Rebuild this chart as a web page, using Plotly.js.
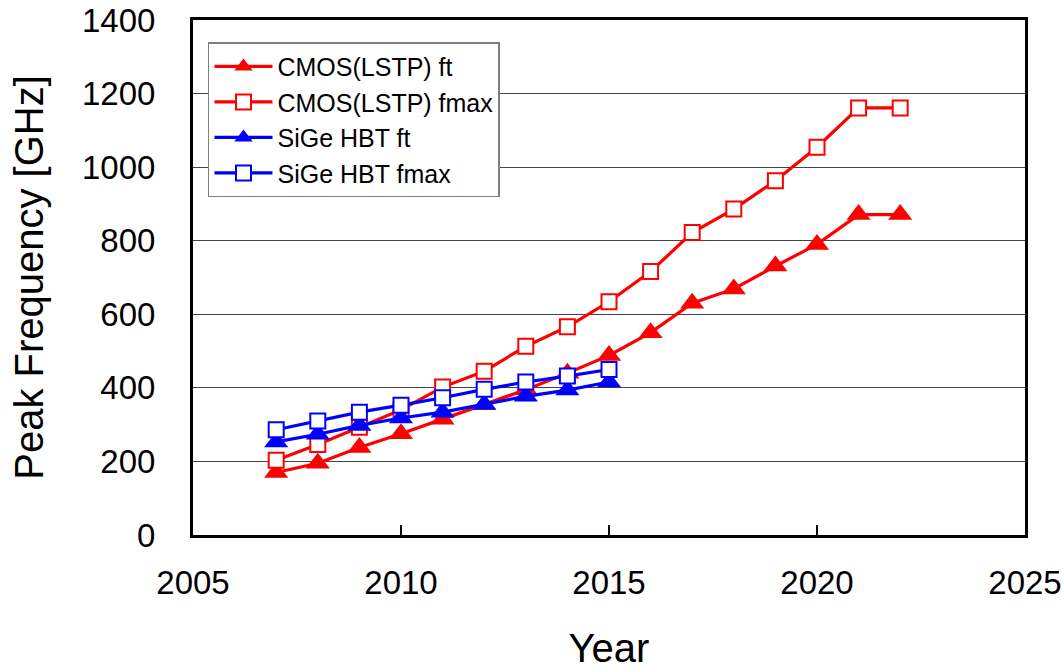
<!DOCTYPE html>
<html>
<head>
<meta charset="utf-8">
<script src="https://cdn.plot.ly/plotly-3.0.1.min.js"></script>
<style>html,body{margin:0;padding:0;background:#fff;}#chart{width:1063px;height:670px;}</style>
</head>
<body>
<div id="chart"></div>
<script>
const cmosYears = [2007,2008,2009,2010,2011,2012,2013,2014,2015,2016,2017,2018,2019,2020,2021,2022];
const cmosFt    = [170,195,238,275,315,355,395,440,488,550,630,669,731,790,871,871];
const cmosFmax  = [203,246,293,340,402,445,513,566,634,716,822,886,963,1054,1161,1161];
const sigeYears = [2007,2008,2009,2010,2011,2012,2013,2014,2015];
const sigeFt    = [253,274,298,318,334,355,377,394,416];
const sigeFmax  = [286,310,334,353,373,396,416,432,450];
const seriesNames = ['CMOS(LSTP) ft','CMOS(LSTP) fmax','SiGe HBT ft','SiGe HBT fmax'];
const xTicks = [2005,2010,2015,2020,2025];
const yTicks = [0,200,400,600,800,1000,1200,1400];

const RED = '#FF0000', BLUE = '#0000FF';
function tri(x, y, name, color, g){
  return {x:x, y:y, name:name, type:'scatter', mode:'lines+markers', legendgroup:g,
    line:{color:color, width:3.2},
    marker:{symbol:'triangle-up', size:21, color:color, line:{width:0}}};
}
function sq(x, y, name, color, g){
  return {x:x, y:y, name:name, type:'scatter', mode:'lines+markers', legendgroup:g,
    line:{color:color, width:3.2},
    marker:{symbol:'square', size:15, color:'#FFFFFF', line:{color:color, width:2}}};
}
const data = [
  tri(cmosYears, cmosFt, seriesNames[0], RED, 'a'),
  sq(cmosYears, cmosFmax, seriesNames[1], RED, 'b'),
  tri(sigeYears, sigeFt, seriesNames[2], BLUE, 'c'),
  sq(sigeYears, sigeFmax, seriesNames[3], BLUE, 'd')
];
const FONT = 'Liberation Sans, Arial, sans-serif';
const layout = {
  width:1063, height:670,
  margin:{l:193, r:38, t:20, b:135},
  paper_bgcolor:'#FFFFFF', plot_bgcolor:'#FFFFFF',
  font:{family:FONT, color:'#000'},
  showlegend:true,
  legend:{x:0.018, y:0.957, xanchor:'left', yanchor:'top',
    bgcolor:'#FFFFFF', bordercolor:'#808080', borderwidth:1.5,
    font:{family:FONT, size:25, color:'#000'}, tracegroupgap:0, itemwidth:58},
  xaxis:{range:[2005,2025], tickvals:xTicks, ticktext:xTicks.map(String),
    showgrid:false, zeroline:false, showline:true, mirror:true, linecolor:'#000', linewidth:3,
    ticks:'inside', ticklen:10, tickwidth:2, tickcolor:'#000',
    tickfont:{family:FONT, size:33, color:'#000'}, ticklabelstandoff:16,
    title:{text:'Year', font:{family:FONT, size:40, color:'#000'}, standoff:52}},
  yaxis:{range:[0,1400], tickvals:yTicks, ticktext:yTicks.map(String),
    showgrid:true, gridcolor:'#444', gridwidth:1, zeroline:false,
    showline:true, mirror:true, linecolor:'#000', linewidth:3, ticks:'',
    tickfont:{family:FONT, size:33, color:'#000'}, ticklabelstandoff:28,
    title:{text:'Peak Frequency [GHz]', font:{family:FONT, size:40, color:'#000'}, standoff:26}}
};
Plotly.newPlot('chart', data, layout, {displayModeBar:false, staticPlot:true});
</script>
</body>
</html>
